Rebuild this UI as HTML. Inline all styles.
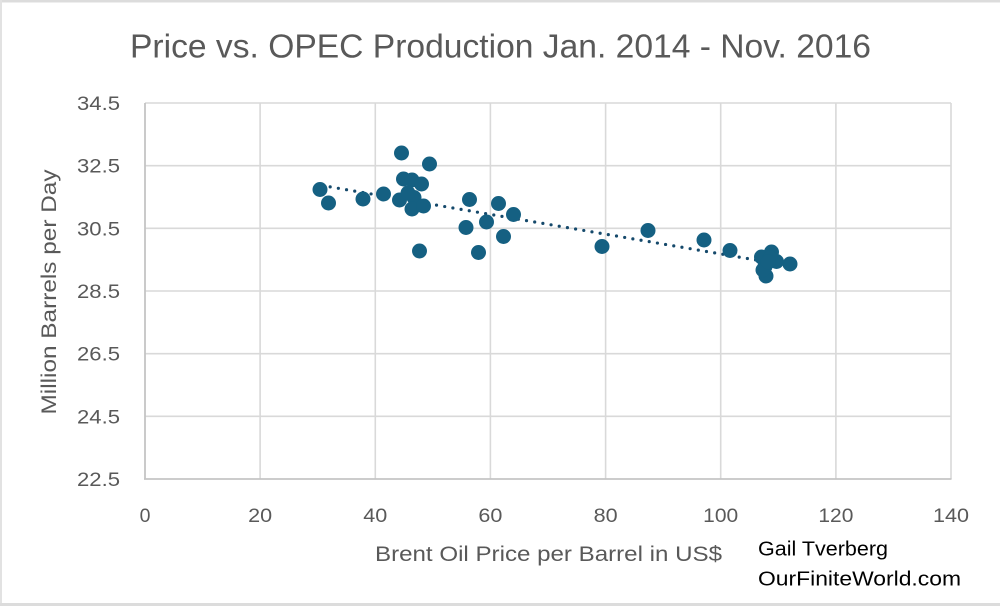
<!DOCTYPE html>
<html>
<head>
<meta charset="utf-8">
<style>
  html, body { margin: 0; padding: 0; background: #ffffff; }
  body { width: 1000px; height: 606px; overflow: hidden; }
  svg { display: block; }
  text { font-family: "Liberation Sans", "DejaVu Sans", sans-serif; }
</style>
</head>
<body>
<svg width="1000" height="606" viewBox="0 0 1000 606" xmlns="http://www.w3.org/2000/svg">
  <rect x="0" y="0" width="1000" height="606" fill="#ffffff"/>
  <!-- outer border -->
  <rect x="0" y="0" width="1000" height="2.5" fill="#dcdcdc"/>
  <rect x="0" y="0" width="2" height="606" fill="#e2e2e2"/>
  <rect x="0" y="603" width="1000" height="3" fill="#dcdcdc"/>

  <!-- Title -->
  <text x="130" y="57.5" font-size="33.5" fill="#595959" textLength="741" lengthAdjust="spacingAndGlyphs">Price vs. OPEC Production  Jan. 2014 - Nov. 2016</text>

  <!-- gridlines -->
  <g stroke="#d9d9d9" stroke-width="1.6" fill="none">
    <line x1="145" y1="103" x2="951" y2="103"/>
    <line x1="145" y1="165.7" x2="951" y2="165.7"/>
    <line x1="145" y1="228.3" x2="951" y2="228.3"/>
    <line x1="145" y1="291" x2="951" y2="291"/>
    <line x1="145" y1="353.7" x2="951" y2="353.7"/>
    <line x1="145" y1="416.3" x2="951" y2="416.3"/>
    <line x1="260.1" y1="103" x2="260.1" y2="479"/>
    <line x1="375.3" y1="103" x2="375.3" y2="479"/>
    <line x1="490.4" y1="103" x2="490.4" y2="479"/>
    <line x1="605.6" y1="103" x2="605.6" y2="479"/>
    <line x1="720.7" y1="103" x2="720.7" y2="479"/>
    <line x1="835.9" y1="103" x2="835.9" y2="479"/>
    <line x1="951" y1="103" x2="951" y2="479"/>
  </g>
  <!-- axes -->
  <g stroke="#c4c4c4" stroke-width="1.8">
    <line x1="145" y1="103" x2="145" y2="479.5"/>
    <line x1="144" y1="479" x2="951.5" y2="479"/>
  </g>

  <!-- Y tick labels -->
  <g font-size="19.5" fill="#595959" text-anchor="end">
    <text x="120" y="110" textLength="43" lengthAdjust="spacingAndGlyphs">34.5</text>
    <text x="120" y="172.7" textLength="43" lengthAdjust="spacingAndGlyphs">32.5</text>
    <text x="120" y="235.3" textLength="43" lengthAdjust="spacingAndGlyphs">30.5</text>
    <text x="120" y="298" textLength="43" lengthAdjust="spacingAndGlyphs">28.5</text>
    <text x="120" y="360.7" textLength="43" lengthAdjust="spacingAndGlyphs">26.5</text>
    <text x="120" y="423.3" textLength="43" lengthAdjust="spacingAndGlyphs">24.5</text>
    <text x="120" y="486" textLength="43" lengthAdjust="spacingAndGlyphs">22.5</text>
  </g>

  <!-- X tick labels -->
  <g font-size="19.5" fill="#595959" text-anchor="middle">
    <text x="145" y="522">0</text>
    <text x="260.1" y="522" textLength="24" lengthAdjust="spacingAndGlyphs">20</text>
    <text x="375.3" y="522" textLength="24" lengthAdjust="spacingAndGlyphs">40</text>
    <text x="490.4" y="522" textLength="24" lengthAdjust="spacingAndGlyphs">60</text>
    <text x="605.6" y="522" textLength="24" lengthAdjust="spacingAndGlyphs">80</text>
    <text x="720.7" y="522" textLength="35" lengthAdjust="spacingAndGlyphs">100</text>
    <text x="835.9" y="522" textLength="35" lengthAdjust="spacingAndGlyphs">120</text>
    <text x="951" y="522" textLength="36" lengthAdjust="spacingAndGlyphs">140</text>
  </g>

  <!-- Axis titles -->
  <text transform="translate(56,292) rotate(-90)" x="0" y="0" font-size="21" fill="#595959" text-anchor="middle" textLength="245" lengthAdjust="spacingAndGlyphs">Million Barrels per Day</text>
  <text x="375" y="561" font-size="21" fill="#595959" textLength="347" lengthAdjust="spacingAndGlyphs">Brent Oil Price per Barrel in US$</text>

  <!-- Signature -->
  <text x="758" y="555.5" font-size="20.5" fill="#000000" textLength="130" lengthAdjust="spacingAndGlyphs">Gail Tverberg</text>
  <text x="758" y="585.5" font-size="20.5" fill="#000000" textLength="203" lengthAdjust="spacingAndGlyphs">OurFiniteWorld.com</text>

  <!-- Trend line -->
  <line x1="322" y1="185.5" x2="762" y2="261" stroke="#15496b" stroke-width="3.2" stroke-linecap="round" stroke-dasharray="0 8.3"/>

  <!-- Data points -->
  <g fill="#156082">
    <circle cx="320" cy="189.5" r="7.5"/>
    <circle cx="328.5" cy="203" r="7.5"/>
    <circle cx="363" cy="199" r="7.5"/>
    <circle cx="383.5" cy="194" r="7.5"/>
    <circle cx="401.5" cy="153" r="7.5"/>
    <circle cx="429.5" cy="164" r="7.5"/>
    <circle cx="403.5" cy="179" r="7.5"/>
    <circle cx="412" cy="180" r="7.5"/>
    <circle cx="421.5" cy="184" r="7.5"/>
    <circle cx="399.5" cy="200" r="7.5"/>
    <circle cx="414" cy="197.5" r="7.5"/>
    <circle cx="408" cy="193" r="7.5"/>
    <circle cx="412" cy="209" r="7.5"/>
    <circle cx="423.5" cy="206" r="7.5"/>
    <circle cx="419.5" cy="251" r="7.5"/>
    <circle cx="469.5" cy="199.5" r="7.5"/>
    <circle cx="466" cy="227.5" r="7.5"/>
    <circle cx="486.5" cy="222" r="7.5"/>
    <circle cx="498.5" cy="203.5" r="7.5"/>
    <circle cx="503.5" cy="236.5" r="7.5"/>
    <circle cx="478.5" cy="252.5" r="7.5"/>
    <circle cx="513.5" cy="214.5" r="7.5"/>
    <circle cx="602" cy="246.5" r="7.5"/>
    <circle cx="648" cy="230.5" r="7.5"/>
    <circle cx="704" cy="240" r="7.5"/>
    <circle cx="730" cy="250.5" r="7.5"/>
    <circle cx="761.5" cy="257" r="7.5"/>
    <circle cx="771.5" cy="252" r="7.5"/>
    <circle cx="765" cy="266.5" r="7.5"/>
    <circle cx="766" cy="276" r="7.5"/>
    <circle cx="790" cy="264" r="7.5"/>
    <circle cx="776.5" cy="261.5" r="7.5"/>
    <circle cx="763" cy="270" r="7.5"/>
    <circle cx="770" cy="258" r="7.5"/>
    <circle cx="768" cy="262" r="7.5"/>
  </g>
</svg>
</body>
</html>
